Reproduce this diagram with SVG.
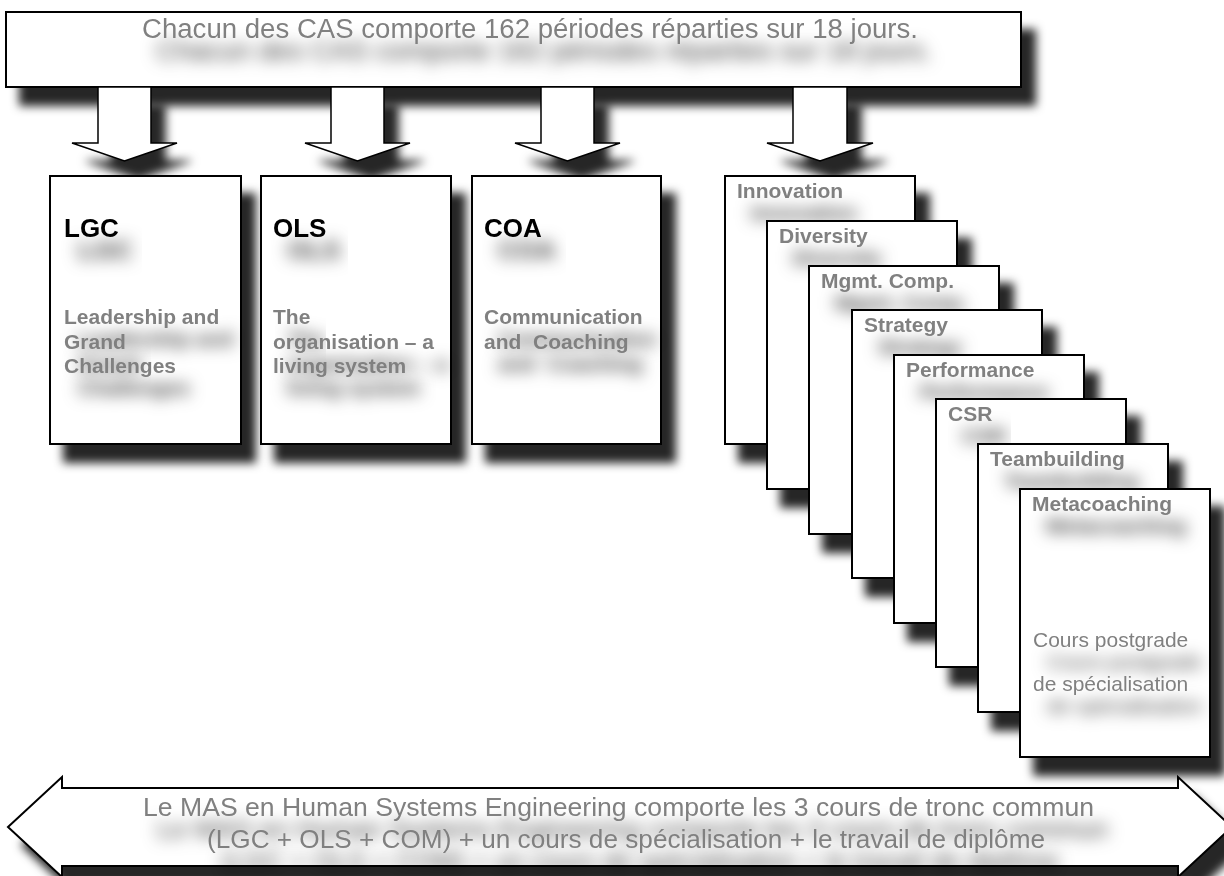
<svg xmlns="http://www.w3.org/2000/svg" width="1224" height="876" viewBox="0 0 1224 876">
<defs>
<filter id="boxShadow" x="-0.15" y="-0.4" width="1.4" height="1.9">
<feGaussianBlur in="SourceAlpha" stdDeviation="5"/>
<feOffset dx="14" dy="18" result="b"/>
<feFlood flood-color="#000" flood-opacity="0.85"/>
<feComposite in2="b" operator="in" result="s"/>
<feMerge><feMergeNode in="s"/><feMergeNode in="SourceGraphic"/></feMerge>
</filter>
<filter id="textShadow" x="-0.3" y="-1.2" width="1.7" height="5">
<feGaussianBlur in="SourceAlpha" stdDeviation="8"/>
<feOffset dx="14" dy="22" result="b"/>
<feFlood flood-color="#000" flood-opacity="0.75"/>
<feComposite in2="b" operator="in" result="s"/>
<feMerge><feMergeNode in="s"/><feMergeNode in="SourceGraphic"/></feMerge>
</filter>
</defs>
<style>
.box{fill:#fff;stroke:#000;stroke-width:2;filter:url(#boxShadow)}
.arrow{fill:#fff;stroke:#000;stroke-width:1.5;stroke-linejoin:miter;filter:url(#boxShadow)}
.t{font-family:"Liberation Sans",Arial,sans-serif;filter:url(#textShadow)}
.big{font-size:27px;fill:#808080}
.ban{font-size:26.5px;fill:#808080}
.code{font-size:26px;font-weight:bold;fill:#000}
.lbl{font-size:21px;font-weight:bold;fill:#808080}
.reg{font-size:21px;fill:#808080}
</style>

<g id="cas-header">
<rect class="box" x="6" y="12" width="1015" height="75"/>
<text class="t big" x="142" y="38" textLength="776" lengthAdjust="spacingAndGlyphs">Chacun des CAS comporte 162 périodes réparties sur 18 jours.</text>
</g>

<g id="connectors">
<path class="arrow" d="M98,87 L151,87 L151,143 L177,143 L124.5,161 L72,143 L98,143 Z"/>
<path class="arrow" d="M331,87 L384,87 L384,143 L410,143 L357.5,161 L305,143 L331,143 Z"/>
<path class="arrow" d="M541,87 L594,87 L594,143 L620,143 L567.5,161 L515,143 L541,143 Z"/>
<path class="arrow" d="M793,87 L847,87 L847,143 L873,143 L820,161 L767,143 L793,143 Z"/>
</g>

<g id="node-lgc">
<rect class="box" x="50" y="176" width="191" height="268"/>
<text class="t code" x="64" y="237">LGC</text>
<text class="t lbl" x="64" y="324">Leadership and</text>
<text class="t lbl" x="64" y="349">Grand</text>
<text class="t lbl" x="64" y="373">Challenges</text>
</g>

<g id="node-ols">
<rect class="box" x="261" y="176" width="190" height="268"/>
<text class="t code" x="273" y="237">OLS</text>
<text class="t lbl" x="273" y="324">The</text>
<text class="t lbl" x="273" y="349">organisation – a</text>
<text class="t lbl" x="273" y="373">living system</text>
</g>

<g id="node-coa">
<rect class="box" x="472" y="176" width="189" height="268"/>
<text class="t code" x="484" y="237">COA</text>
<text class="t lbl" x="484" y="324">Communication</text>
<text class="t lbl" x="484" y="349" style="white-space:pre">and  Coaching</text>
</g>

<g id="card-innovation">
<rect class="box" x="725" y="176" width="190" height="268"/>
<text class="t lbl" x="737" y="198">Innovation</text>
</g>
<g id="card-diversity">
<rect class="box" x="767" y="221" width="190" height="268"/>
<text class="t lbl" x="779" y="243">Diversity</text>
</g>
<g id="card-mgmt">
<rect class="box" x="809" y="266" width="190" height="268"/>
<text class="t lbl" x="821" y="288">Mgmt. Comp.</text>
</g>
<g id="card-strategy">
<rect class="box" x="852" y="310" width="190" height="268"/>
<text class="t lbl" x="864" y="332">Strategy</text>
</g>
<g id="card-performance">
<rect class="box" x="894" y="355" width="190" height="268"/>
<text class="t lbl" x="906" y="377">Performance</text>
</g>
<g id="card-csr">
<rect class="box" x="936" y="399" width="190" height="268"/>
<text class="t lbl" x="948" y="421">CSR</text>
</g>
<g id="card-teambuilding">
<rect class="box" x="978" y="444" width="190" height="268"/>
<text class="t lbl" x="990" y="466">Teambuilding</text>
</g>
<g id="card-metacoaching">
<rect class="box" x="1020" y="489" width="190" height="268"/>
<text class="t lbl" x="1032" y="511">Metacoaching</text>
<text class="t reg" x="1033" y="647">Cours postgrade</text>
<text class="t reg" x="1033" y="691">de spécialisation</text>
</g>

<g id="mas-banner">
<path class="arrow" style="stroke-width:2" d="M8,827 L62,777 L62,788 L1178,788 L1178,777 L1232,827 L1178,877 L1178,866 L62,866 L62,877 Z"/>
<text class="t ban" x="143" y="816" textLength="951" lengthAdjust="spacingAndGlyphs">Le MAS en Human Systems Engineering comporte les 3 cours de tronc commun</text>
<text class="t ban" x="207" y="848" textLength="838" lengthAdjust="spacingAndGlyphs">(LGC + OLS + COM) + un cours de spécialisation + le travail de diplôme</text>
</g>
</svg>
